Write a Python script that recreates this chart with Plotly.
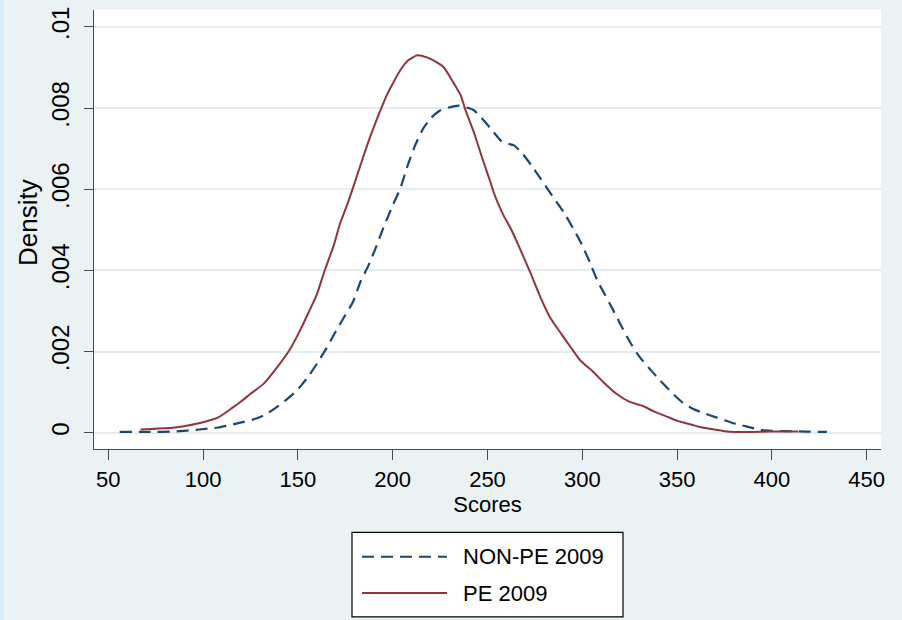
import plotly.graph_objects as go

# ---------------- data ----------------
pe_x = [67, 75, 85, 92, 100, 108, 115, 120, 125, 132, 139, 146, 151, 156, 160,
        164, 169, 172, 177, 182, 187, 191, 194, 197, 200, 204, 208, 213, 218, 222,
        227, 232, 236, 238, 240, 243, 247, 251, 254, 258, 263, 267, 273, 278, 283,
        289, 294, 299, 306, 311, 318, 325, 332, 338, 345, 351, 357, 362, 368, 375,
        380, 390, 400, 414]
pe_y = [0.00008, 0.00010, 0.00013, 0.00018, 0.00026, 0.00038, 0.00060, 0.00077,
        0.00096, 0.00121, 0.00161, 0.00207, 0.00251, 0.00300, 0.00341, 0.00398,
        0.00463, 0.00512, 0.00575, 0.00645, 0.00715, 0.00765, 0.00800, 0.00833,
        0.00860, 0.00893, 0.00917, 0.00930, 0.00925, 0.00916, 0.00900, 0.00863,
        0.00830, 0.00800, 0.00775, 0.00738, 0.00680, 0.00625, 0.00583, 0.00540,
        0.00496, 0.00455, 0.00390, 0.00333, 0.00284, 0.00243, 0.00210, 0.00178,
        0.00149, 0.00125, 0.00096, 0.00076, 0.00066, 0.00052, 0.00039, 0.00028,
        0.00021, 0.00014, 0.00009, 0.00004, 0.00002, 0.00002, 0.00003, 0.00003]

nonpe_x = [56, 70, 85, 98, 108, 118, 128, 133, 139, 143, 148, 152, 156, 160, 165,
           170, 175, 179, 183, 187, 191, 195, 200, 204, 208, 212, 216, 220, 225,
           230, 235, 240, 243, 247, 252, 257, 260, 264, 268, 273, 278, 284, 290,
           295, 299, 304, 308, 312, 316, 320, 325, 330, 336, 341, 347, 353, 358,
           362, 368, 375, 381, 387, 394, 400, 408, 418, 429]
nonpe_y = [0.00002, 0.00002, 0.00003, 0.00008, 0.00013, 0.00023, 0.00035, 0.00045,
           0.00064, 0.00078, 0.00098, 0.00118, 0.00142, 0.00170, 0.00208, 0.00250,
           0.00290, 0.00322, 0.00372, 0.00410, 0.00455, 0.00504, 0.00560, 0.00602,
           0.00660, 0.00710, 0.00749, 0.00775, 0.00794, 0.00802, 0.00806, 0.00800,
           0.00794, 0.00775, 0.00748, 0.00720, 0.00713, 0.00708, 0.00690, 0.00660,
           0.00626, 0.00585, 0.00545, 0.00505, 0.00471, 0.00420, 0.00374, 0.00340,
           0.00305, 0.00268, 0.00225, 0.00188, 0.00155, 0.00129, 0.00100, 0.00074,
           0.00060, 0.00052, 0.00042, 0.00031, 0.00022, 0.00015, 0.00007, 0.00005,
           0.00004, 0.00003, 0.00002]

series_names = ["NON-PE 2009", "PE 2009"]
x_ticks = [50, 100, 150, 200, 250, 300, 350, 400, 450]
y_ticks = [0, 0.002, 0.004, 0.006, 0.008, 0.01]
y_tick_text = ["0", ".002", ".004", ".006", ".008", ".01"]
x_title = "Scores"
y_title = "Density"

# ---------------- style ----------------
NAVY = "#1A476F"
MAROON = "#90353B"
BG = "#EAF2F3"
FONT = "Liberation Sans, Arial, sans-serif"
W, H = 902, 620
ML, MR, MT, MB = 94, 21, 7, 171
PW, PH = W - ML - MR, H - MT - MB


def px_x(p):
    return (p - ML) / PW


def px_y(p):
    return (H - MB - p) / PH


fig = go.Figure()
fig.add_trace(go.Scatter(x=nonpe_x, y=nonpe_y, mode="lines", name=series_names[0],
                         line=dict(color=NAVY, width=2.2, dash="12px,7px", shape="spline",
                                   smoothing=0.5),
                         showlegend=False))
fig.add_trace(go.Scatter(x=pe_x, y=pe_y, mode="lines", name=series_names[1],
                         line=dict(color=MAROON, width=2, shape="spline", smoothing=0.5),
                         showlegend=False))

# manual legend (box, sample lines, labels)
shapes = [
    dict(type="rect", xref="paper", yref="paper", x0=px_x(-5), x1=px_x(4),
         y0=px_y(625), y1=px_y(-5), fillcolor="#D9ECFB", line=dict(width=0), layer="below"),
    dict(type="rect", xref="paper", yref="paper", x0=px_x(352), x1=px_x(623),
         y0=px_y(618), y1=px_y(533), fillcolor="white", line=dict(color="black", width=1.2)),
    dict(type="line", xref="paper", yref="paper", x0=px_x(362), x1=px_x(447),
         y0=px_y(557.5), y1=px_y(557.5), line=dict(color=NAVY, width=2.2, dash="12px,7px")),
    dict(type="line", xref="paper", yref="paper", x0=px_x(362), x1=px_x(447),
         y0=px_y(594), y1=px_y(594), line=dict(color=MAROON, width=2)),
]
annotations = [
    dict(text=series_names[0], xref="paper", yref="paper", x=px_x(461), y=px_y(557.5),
         xanchor="left", yanchor="middle", showarrow=False,
         font=dict(size=22, color="black", family=FONT)),
    dict(text=series_names[1], xref="paper", yref="paper", x=px_x(461), y=px_y(594),
         xanchor="left", yanchor="middle", showarrow=False,
         font=dict(size=22, color="black", family=FONT)),
    dict(text=y_title, xref="paper", yref="paper", x=px_x(28), y=px_y(221.5),
         xanchor="center", yanchor="middle", textangle=-90, showarrow=False,
         font=dict(size=26, color="black", family=FONT)),
]

fig.update_layout(
    width=W, height=H,
    margin=dict(l=ML, r=MR, t=MT, b=MB, pad=0),
    paper_bgcolor=BG, plot_bgcolor="white",
    font=dict(family=FONT, color="black"),
    shapes=shapes, annotations=annotations,
    showlegend=False,
)
fig.update_xaxes(
    range=[42.45, 457.55], tickvals=x_ticks, showgrid=False, zeroline=False,
    showline=True, linecolor="#4a4a4a", linewidth=1.4,
    ticks="outside", ticklen=10, tickwidth=1.4, tickcolor="#4a4a4a",
    tickfont=dict(size=22, color="black", family=FONT),
    title=dict(text=x_title, font=dict(size=22, color="black", family=FONT), standoff=4),
)
fig.update_yaxes(
    range=[-0.0004, 0.010416], tickvals=y_ticks, ticktext=y_tick_text, tickangle=-90,
    showgrid=True, gridcolor="#E3EDEF", gridwidth=1.6, zeroline=False,
    showline=True, linecolor="#4a4a4a", linewidth=1.4,
    ticks="outside", ticklen=9, tickwidth=1.4, tickcolor="#4a4a4a",
    tickfont=dict(size=24, color="black", family=FONT),
    ticklabelstandoff=5,
)

fig.write_html("out.html", config={"displayModeBar": False},
               post_script="document.body.style.margin='0';document.body.style.overflow='hidden';")
